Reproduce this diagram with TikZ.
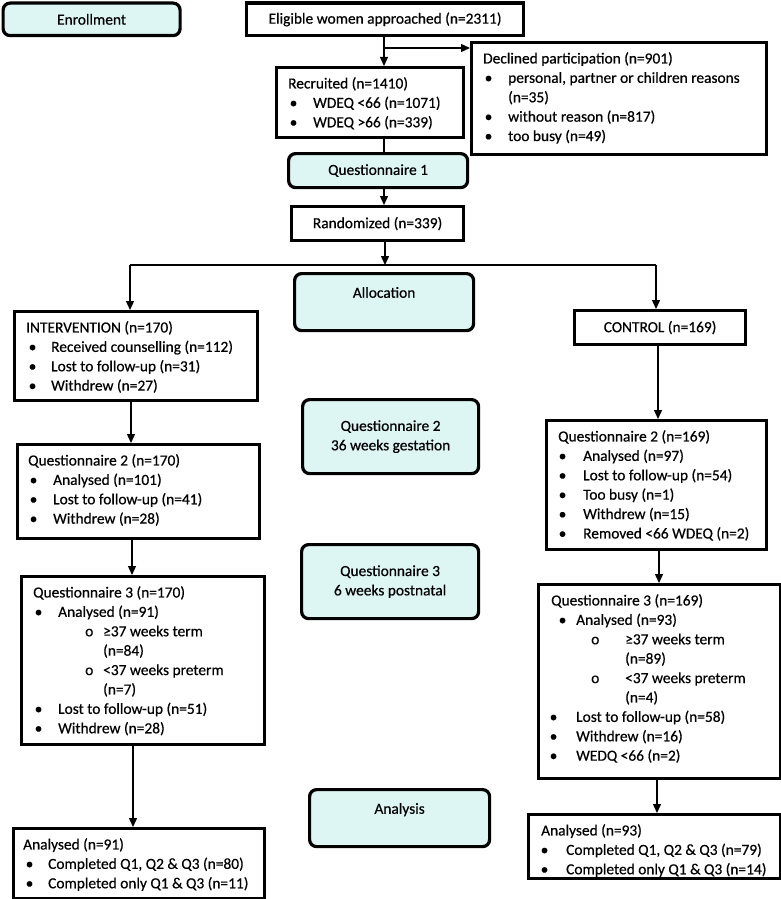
\documentclass[tikz,border=0pt]{standalone}
\usepackage{fontspec}
\setmainfont{Carlito}[FakeBold=0.5]
\usetikzlibrary{arrows.meta,calc}
\definecolor{cy}{RGB}{221,246,244}
\newcommand{\fs}{\fontsize{15.4}{19.4}\selectfont}
\newcommand{\bi}[2][3]{\hspace*{\dimexpr#1pt-1.5pt\relax}\makebox[\dimexpr26.5pt-#1pt\relax][l]{\textbullet}#2}
\newcommand{\si}[3]{\hspace*{\dimexpr#1pt-2pt\relax}\makebox[\dimexpr#2pt-#1pt+2pt\relax][l]{o}#3}
\tikzset{
  x=1pt,y=-1pt,
  bx/.style={draw, line width=3.2pt, anchor=north west, inner sep=0pt, font=\fs, align=center},
  rb/.style={bx, rounded corners=7pt, fill=cy},
  tx/.style={anchor=north west, inner sep=0pt, align=left, font=\fs},
  arr/.style={line width=1.4pt, -{Triangle[length=9pt,width=8pt]}},
  ln/.style={line width=1.4pt},
}
\begin{document}
\begin{tikzpicture}
\useasboundingbox (0,0) rectangle (781,899);
% boxes
\node[rb, minimum width=177, minimum height=32.5] (enr) at (1.5,1.5) {Enrollment};
\node[bx, minimum width=277, minimum height=32.5] (elig) at (245,1.5) {Eligible women approached (n=2311)};
\node[bx, minimum width=187, minimum height=70] (rec) at (275,66) {};
\node[bx, minimum width=295, minimum height=112] (decl) at (470,41) {};
\node[rb, minimum width=179, minimum height=34] (q1) at (287,152) {Questionnaire 1};
\node[bx, minimum width=172, minimum height=34] (rand) at (290,205) {Randomized (n=339)};
\node[rb, minimum width=179, minimum height=57] (alloc) at (293,272) {Allocation\\ \mbox{}};
\node[bx, minimum width=243, minimum height=89] (int) at (13,310) {};
\node[bx, minimum width=171, minimum height=34] (ctl) at (573,309) {CONTROL (n=169)};
\node[rb, minimum width=176, minimum height=74] (q2m) at (301,398) {Questionnaire 2\\36 weeks gestation};
\node[bx, minimum width=242, minimum height=94] (q2i) at (16,443) {};
\node[bx, minimum width=220, minimum height=129] (q2c) at (545,419) {};
\node[rb, minimum width=177, minimum height=74] (q3m) at (300,543) {Questionnaire 3\\6 weeks postnatal};
\node[bx, minimum width=243, minimum height=168] (q3i) at (20,575) {};
\node[bx, minimum width=242, minimum height=194] (q3c) at (537,583) {};
\node[rb, minimum width=180, minimum height=57] (ana) at (308,788) {Analysis\\ \mbox{}};
\node[bx, minimum width=251, minimum height=70] (ai) at (12,827) {};
\node[bx, minimum width=252, minimum height=64] (ac) at (527,813) {};
% texts
\node[tx] (rec-t) at ($(rec.north west)+(13,11)$) {Recruited (n=1410)\\ \bi{WDEQ <66 (n=1071)}\\ \bi{WDEQ >66 (n=339)}};
\node[tx] (decl-t) at ($(decl.north west)+(13,11)$) {Declined participation (n=901)\\
 \bi{personal, partner or children reasons}\\ \hspace*{25pt}(n=35)\\
 \bi{without reason (n=817)}\\ \bi{too busy (n=49)}};
\node[tx] (int-t) at ($(int.north west)+(13,11)$) {INTERVENTION (n=170)\\
 \bi[4]{Received counselling (n=112)}\\ \bi[4]{Lost to follow-up (n=31)}\\ \bi[4]{Withdrew (n=27)}};
\node[tx] (q2i-t) at ($(q2i.north west)+(12,11)$) {Questionnaire 2 (n=170)\\
 \bi{Analysed (n=101)}\\ \bi{Lost to follow-up (n=41)}\\ \bi{Withdrew (n=28)}};
\node[tx] (q2c-t) at ($(q2c.north west)+(13,11)$) {Questionnaire 2 (n=169)\\
 \bi[2]{Analysed (n=97)}\\ \bi[2]{Lost to follow-up (n=54)}\\ \bi[2]{Too busy (n=1)}\\
 \bi[2]{Withdrew (n=15)}\\ \bi[2]{Removed <66 WDEQ (n=2)}};
\node[tx] (q3i-t) at ($(q3i.north west)+(13,11)$) {Questionnaire 3 (n=170)\\
 \bi{Analysed (n=91)}\\ \si{54}{70}{≥37 weeks term}\\ \hspace*{70pt}(n=84)\\
 \si{54}{70}{<37 weeks preterm}\\ \hspace*{70pt}(n=7)\\
 \bi{Lost to follow-up (n=51)}\\ \bi{Withdrew (n=28)}};
\node[tx] (q3c-t) at ($(q3c.north west)+(14,11)$) {Questionnaire 3 (n=169)\\
 \bi[9]{Analysed (n=93)}\\ \si{42}{74}{≥37 weeks term}\\ \hspace*{74pt}(n=89)\\
 \si{42}{74}{<37 weeks preterm}\\ \hspace*{74pt}(n=4)\\
 \bi[0]{Lost to follow-up (n=58)}\\ \bi[0]{Withdrew (n=16)}\\ \bi[0]{WEDQ <66 (n=2)}};
\node[tx] (ai-t) at ($(ai.north west)+(11,11)$) {Analysed (n=91)\\
 \bi[4]{Completed Q1, Q2 \& Q3 (n=80)}\\ \bi[4]{Completed only Q1 \& Q3 (n=11)}};
\node[tx] (ac-t) at ($(ac.north west)+(14,11)$) {Analysed (n=93)\\
 \bi[1]{Completed Q1, Q2 \& Q3 (n=79)}\\ \bi[1]{Completed only Q1 \& Q3 (n=14)}};
% connectors
\coordinate (c1) at (384,48);
\draw[arr] (elig.south -| c1) -- (rec.north -| c1);
\draw[arr] (c1) -- (c1 -| decl.west);
\draw[ln] (rec.south -| c1) -- (q1.north -| c1);
\draw[arr] (q1.south -| c1) -- (rand.north -| c1);
\coordinate (c2) at (385,265);
\coordinate (sl) at (130,265);
\coordinate (sr) at (656,265);
\draw[arr] (rand.south -| c2) -- (c2);
\draw[ln] (sl) -- (sr);
\draw[arr] (sl) -- (sl |- int.north);
\draw[arr] (sr) -- (sr |- ctl.north);
\coordinate (v1) at (131,0);
\coordinate (v2) at (132,0);
\coordinate (v3) at (133,0);
\coordinate (w1) at (658,0);
\coordinate (w2) at (659,0);
\coordinate (w3) at (657,0);
\draw[arr] (int.south -| v1) -- (q2i.north -| v1);
\draw[arr] (q2i.south -| v2) -- (q3i.north -| v2);
\draw[arr] (q3i.south -| v3) -- (ai.north -| v3);
\draw[arr] (ctl.south -| w1) -- (q2c.north -| w1);
\draw[arr] (q2c.south -| w2) -- (q3c.north -| w2);
\draw[arr] (q3c.south -| w3) -- (ac.north -| w3);
\end{tikzpicture}
\end{document}
